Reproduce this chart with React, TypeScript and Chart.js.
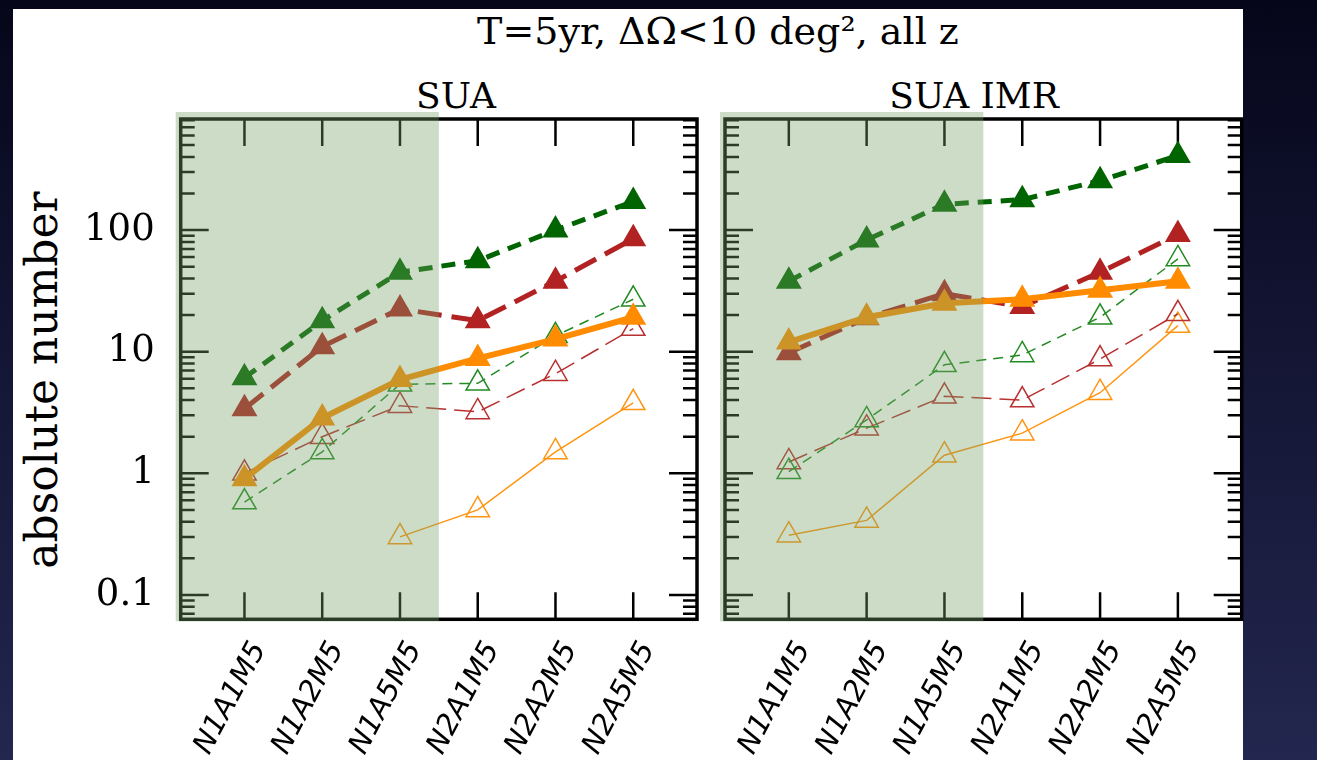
import React, { useEffect, useRef } from 'react';
import { Chart, registerables } from 'chart.js';

Chart.register(...registerables);

// ---------- data ----------
const categories = ['N1A1M5', 'N1A2M5', 'N1A5M5', 'N2A1M5', 'N2A2M5', 'N2A5M5'];
const yTickValues = [0.1, 1, 10, 100];
const yTickLabels = ['0.1', '1', '10', '100'];
const yMin = 0.063;
const yMax = 820;
const xMin = -0.82;
const xMax = 5.82;
const shadeEnd = 2.5; // shaded region covers the first three categories

// SUA panel
const suaGreenFilled = [6.1, 18, 45, 56, 100, 172];
const suaRedFilled = [3.4, 11, 22.5, 18, 38, 85];
const suaOrangeFilled = [0.9, 2.85, 5.9, 8.8, 12.7, 19.2];
const suaGreenOpen = [0.58, 1.5, 5.4, 5.5, 13.5, 27];
const suaRedOpen = [1.0, 2.0, 3.6, 3.2, 6.6, 15.5];
const suaOrangeOpen = [null, null, 0.3, 0.5, 1.5, 3.8];

// SUA IMR panel
const imrGreenFilled = [38, 83, 163, 178, 255, 410];
const imrRedFilled = [9.8, 19, 30, 23.5, 45, 92];
const imrOrangeFilled = [12, 19.2, 25, 27, 32, 38];
const imrGreenOpen = [1.03, 2.75, 7.8, 9.4, 19.2, 58];
const imrRedOpen = [1.24, 2.35, 4.3, 4.0, 8.7, 20.5];
const imrOrangeOpen = [0.31, 0.41, 1.41, 2.14, 4.6, 16.4];

// ---------- styles ----------
const seriesStyles = [
  { color: '#ff8c00', width: 6, dash: [] as number[], filled: true, order: 0 },
  { color: '#b22222', width: 5, dash: [24, 10], filled: true, order: 1 },
  { color: '#006400', width: 5, dash: [14, 9], filled: true, order: 2 },
  { color: '#228b22', width: 1.5, dash: [10, 7], filled: false, order: 3 },
  { color: '#b83030', width: 1.5, dash: [20, 8], filled: false, order: 4 },
  { color: '#ff9410', width: 1.5, dash: [] as number[], filled: false, order: 5 },
];

function buildDatasets(series: (number | null)[][]) {
  return series.map((vals, si) => {
    const s = seriesStyles[si];
    return {
      data: vals.map((v, i) => ({ x: i, y: v })),
      borderColor: s.color,
      backgroundColor: s.filled ? s.color : 'rgba(0,0,0,0)',
      borderWidth: s.width,
      borderDash: s.dash,
      pointStyle: 'triangle',
      pointRadius: 13.5,
      pointBorderWidth: 1.5,
      pointBorderColor: s.color,
      pointBackgroundColor: s.filled ? s.color : 'rgba(0,0,0,0)',
      spanGaps: false,
      tension: 0,
      order: s.order,
      clip: false as any,
    };
  });
}

const framePlugin = {
  id: 'frameTicks',
  beforeDatasetsDraw(chart: any) {
    const { ctx, chartArea: a, scales } = chart;
    const x = scales.x;
    const y = scales.y;
    ctx.save();
    ctx.strokeStyle = '#000';
    ctx.lineWidth = 2.5;
    ctx.beginPath();
    categories.forEach((_, i) => {
      const px = x.getPixelForValue(i);
      ctx.moveTo(px, a.bottom);
      ctx.lineTo(px, a.bottom - 27);
      ctx.moveTo(px, a.top);
      ctx.lineTo(px, a.top + 27);
    });
    for (let e = -2; e <= 3; e++) {
      for (let m = 1; m <= 9; m++) {
        const v = m * Math.pow(10, e);
        if (v < y.min || v > y.max) continue;
        const py = y.getPixelForValue(v);
        const len = m === 1 ? 28 : 14;
        ctx.moveTo(a.left, py);
        ctx.lineTo(a.left + len, py);
        ctx.moveTo(a.right, py);
        ctx.lineTo(a.right - len, py);
      }
    }
    ctx.stroke();
    ctx.lineWidth = 3.5;
    ctx.strokeRect(a.left, a.top, a.right - a.left, a.bottom - a.top);
    ctx.restore();
  },
};

const shadePlugin = {
  id: 'shade',
  afterDraw(chart: any) {
    const { ctx, chartArea: a, scales } = chart;
    const right = scales.x.getPixelForValue(shadeEnd);
    ctx.save();
    ctx.fillStyle = 'rgba(118,160,102,0.37)';
    ctx.fillRect(a.left - 5, a.top - 7, right - (a.left - 5), a.bottom - a.top + 9);
    ctx.restore();
  },
};

type PanelProps = {
  series: (number | null)[][];
  left: number;
  width: number;
  yAxisWidth: number;
  padRight: number;
  showY: boolean;
};

const CANVAS_H = 760;
const PLOT_TOP = 119;
const PLOT_BOTTOM = 619.3;

function Panel({ series, left, width, yAxisWidth, padRight, showY }: PanelProps) {
  const ref = useRef<HTMLCanvasElement | null>(null);
  useEffect(() => {
    if (!ref.current) return;
    const chart = new Chart(ref.current, {
      type: 'line',
      data: { datasets: buildDatasets(series) as any },
      options: {
        responsive: false,
        animation: false,
        events: [],
        layout: { padding: { top: PLOT_TOP, right: padRight, bottom: 0, left: 0 } },
        plugins: { legend: { display: false }, tooltip: { enabled: false }, title: { display: false } },
        scales: {
          x: {
            type: 'linear',
            min: xMin,
            max: xMax,
            grid: { display: false, drawTicks: false },
            border: { display: false },
            afterBuildTicks: (scale: any) => {
              scale.ticks = categories.map((_, i) => ({ value: i }));
            },
            afterFit: (scale: any) => {
              scale.height = CANVAS_H - PLOT_BOTTOM;
            },
            ticks: {
              autoSkip: false,
              minRotation: 62,
              maxRotation: 62,
              padding: 17,
              labelOffset: 15,
              color: '#000',
              font: { family: '"DejaVu Sans", sans-serif', style: 'oblique', size: 29 },
              callback: (v: any) => categories[Math.round(Number(v))] ?? '',
            },
          },
          y: {
            type: 'logarithmic',
            min: yMin,
            max: yMax,
            grid: { display: false, drawTicks: false },
            border: { display: false },
            afterBuildTicks: (scale: any) => {
              scale.ticks = yTickValues.map((v) => ({ value: v }));
            },
            afterFit: (scale: any) => {
              scale.width = yAxisWidth;
            },
            ticks: {
              display: showY,
              padding: 26,
              color: '#000',
              font: { family: '"DejaVu Serif", serif', size: 37 },
              callback: (v: any) => {
                const idx = yTickValues.indexOf(Number(v));
                return idx >= 0 ? yTickLabels[idx] : '';
              },
            },
          },
        },
      },
      plugins: [framePlugin, shadePlugin],
    } as any);
    return () => chart.destroy();
  }, []);
  return (
    <canvas
      ref={ref}
      width={width}
      height={CANVAS_H}
      style={{ position: 'absolute', left, top: 0, width, height: CANVAS_H }}
    />
  );
}

export default function App() {
  const serif = '"DejaVu Serif", serif';
  return (
    <div
      style={{
        position: 'fixed',
        left: 0,
        top: 0,
        width: 1317,
        height: 760,
        overflow: 'hidden',
        background: 'linear-gradient(180deg, #06061a 0%, #10122e 35%, #23264e 100%)',
      }}
    >
      <div style={{ position: 'absolute', left: 12.7, top: 9.3, width: 1243 - 12.7, height: 760, background: '#fff' }} />
      <div
        style={{
          position: 'absolute', left: 718 - 400, top: 12, width: 800, textAlign: 'center',
          fontFamily: serif, fontSize: 38, lineHeight: 1, color: '#000', whiteSpace: 'nowrap',
        }}
      >
        T=5yr, ΔΩ&lt;10 deg², all z
      </div>
      <div
        style={{
          position: 'absolute', left: 456 - 200, top: 77.5, width: 400, textAlign: 'center',
          fontFamily: serif, fontSize: 36, lineHeight: 1, color: '#000', whiteSpace: 'nowrap',
        }}
      >
        SUA
      </div>
      <div
        style={{
          position: 'absolute', left: 974 - 200, top: 77.5, width: 400, textAlign: 'center',
          fontFamily: serif, fontSize: 36, lineHeight: 1, color: '#000', whiteSpace: 'nowrap',
        }}
      >
        SUA IMR
      </div>
      <div
        style={{
          position: 'absolute', left: 42 - 250, top: 380 - 25, width: 500, height: 50, lineHeight: '50px',
          textAlign: 'center', transform: 'rotate(-90deg)', fontFamily: serif, fontSize: 44,
          color: '#000', whiteSpace: 'nowrap',
        }}
      >
        absolute number
      </div>
      <Panel
        series={[suaOrangeFilled, suaRedFilled, suaGreenFilled, suaGreenOpen, suaRedOpen, suaOrangeOpen]}
        left={0}
        width={712}
        yAxisWidth={180.7}
        padRight={712 - 701.7}
        showY={true}
      />
      <Panel
        series={[imrOrangeFilled, imrRedFilled, imrGreenFilled, imrGreenOpen, imrRedOpen, imrOrangeOpen]}
        left={710}
        width={607}
        yAxisWidth={10.7}
        padRight={607 - (1241.7 - 710)}
        showY={false}
      />
    </div>
  );
}
